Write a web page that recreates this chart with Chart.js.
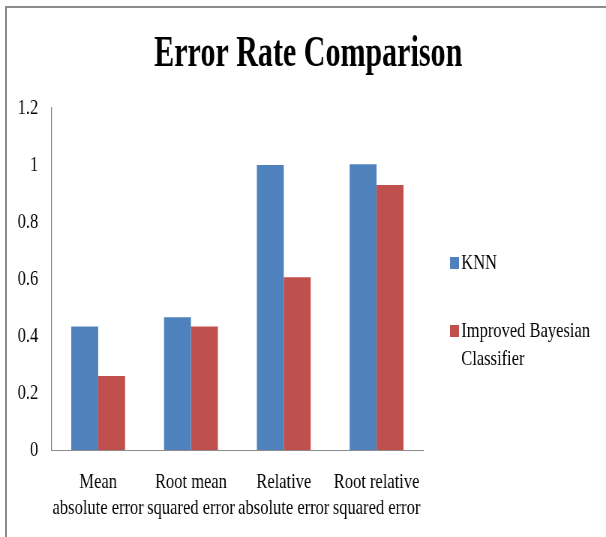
<!DOCTYPE html>
<html>
<head>
<meta charset="utf-8">
<script src="https://cdn.jsdelivr.net/npm/chart.js@4/dist/chart.umd.min.js"></script>
<style>
  html, body { margin: 0; padding: 0; background: #fff; }
  body { width: 606px; height: 537px; position: relative; overflow: hidden; }
  #frame { position: absolute; left: 5px; top: 6px; right: 0; bottom: 0;
           border-left: 2px solid #8c8c8c; border-top: 2px solid #8c8c8c; }
  #chart { position: absolute; left: 0; top: 0; transform: scaleX(0.75); transform-origin: 0 0; }
</style>
</head>
<body>
<div id="frame"></div>
<canvas id="chart" width="808" height="537"></canvas>
<script>
const categories = [
  ['Mean', 'absolute error'],
  ['Root mean', 'squared error'],
  ['Relative', 'absolute error'],
  ['Root relative', 'squared error']
];
const knnValues = [0.433, 0.466, 1.0, 1.003];
const bayesValues = [0.26, 0.433, 0.606, 0.93];
const seriesNames = ['KNN', ['Improved Bayesian', 'Classifier']];
const yTicks = [0, 0.2, 0.4, 0.6, 0.8, 1, 1.2];
const chartTitle = 'Error Rate Comparison';

const serif = 'Liberation Serif, Times New Roman, serif';

// title centred on the whole picture, legend drawn by hand so the long name wraps
const decorations = {
  id: 'decorations',
  afterDraw(chart) {
    const ctx = chart.ctx;
    const area = chart.chartArea;
    ctx.save();
    ctx.fillStyle = '#000';
    ctx.textAlign = 'center';
    ctx.textBaseline = 'middle';
    ctx.font = 'bold 45px ' + serif;
    ctx.translate(411, area.top - 54);
    ctx.scale(0.89, 1);
    ctx.fillText(chartTitle, 0, 0);
    ctx.restore();

    ctx.save();
    ctx.textAlign = 'left';
    ctx.textBaseline = 'middle';
    ctx.font = '22px ' + serif;
    const x = area.right + 36;
    const rows = [area.top + 155, area.top + 223];
    chart.data.datasets.forEach((ds, i) => {
      const y = rows[i];
      ctx.fillStyle = ds.backgroundColor;
      ctx.fillRect(x, y - 6, 12, 12);
      ctx.fillStyle = '#000';
      [].concat(ds.label).forEach((t, j) => ctx.fillText(t, x + 15, y + j * 28));
    });
    ctx.restore();
  }
};

new Chart(document.getElementById('chart'), {
  type: 'bar',
  data: {
    labels: categories,
    datasets: [
      { label: seriesNames[0], data: knnValues, backgroundColor: '#4F81BD' },
      { label: seriesNames[1], data: bayesValues, backgroundColor: '#C0504D' }
    ]
  },
  options: {
    responsive: false,
    animation: false,
    devicePixelRatio: 1,
    categoryPercentage: 0.58,
    barPercentage: 1,
    layout: { padding: { left: 0, right: 244, top: 108, bottom: 14 } },
    plugins: {
      legend: { display: false },
      tooltip: { enabled: false },
      title: { display: false }
    },
    scales: {
      x: {
        afterFit(scale) { scale.height = 73; },
        grid: { display: false, drawTicks: false },
        border: { display: true, color: '#8a8a8a', width: 1 },
        ticks: {
          color: '#000',
          font: { family: serif, size: 22, lineHeight: 1.2 },
          padding: 19,
          maxRotation: 0,
          autoSkip: false
        }
      },
      y: {
        min: 0,
        max: 1.2,
        afterBuildTicks(scale) { scale.ticks = yTicks.map(v => ({ value: v })); },
        afterFit(scale) { scale.width = 69; },
        grid: { display: false, drawTicks: false },
        border: { display: true, color: '#8a8a8a', width: 1.3 },
        ticks: {
          color: '#000',
          font: { family: serif, size: 22 },
          padding: 18,
          callback: v => String(v)
        }
      }
    }
  },
  plugins: [decorations]
});
</script>
</body>
</html>
